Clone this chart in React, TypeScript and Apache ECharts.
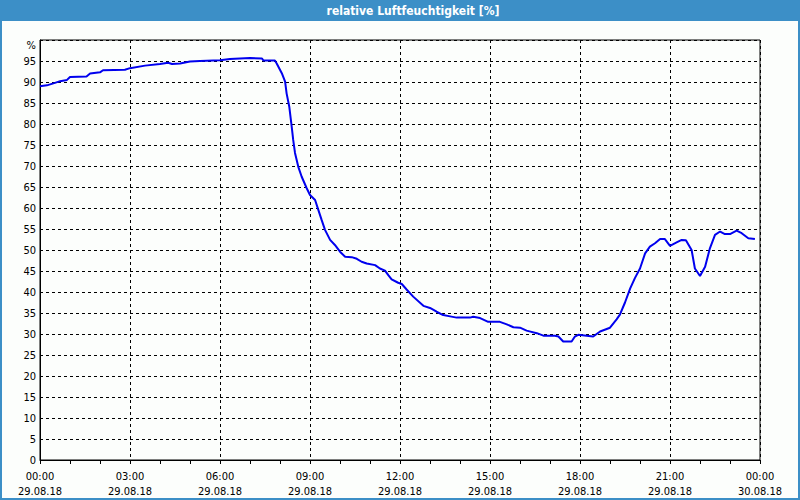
import React, { useEffect, useRef } from "react";
import * as echarts from "echarts";

const TITLE = "relative Luftfeuchtigkeit [%]";
const hours: number[] = [
  0, 0.23, 0.5, 0.67, 0.9, 1.0, 1.55, 1.67, 2.0, 2.1, 2.83, 3.0, 3.5, 4.0, 4.27, 4.4, 4.67, 5.0, 5.33, 6.0,
  6.33, 7.0, 7.4, 7.45, 7.83, 7.89, 8.06, 8.17, 8.22, 8.31, 8.39, 8.44, 8.5, 8.61, 8.72, 8.89, 9.0, 9.17,
  9.28, 9.39, 9.5, 9.67, 9.83, 10.0, 10.17, 10.39, 10.56, 10.72, 10.89, 11.17, 11.33, 11.5, 11.61, 11.72,
  11.94, 12.06, 12.22, 12.44, 12.78, 13.0, 13.22, 13.44, 13.67, 13.89, 14.33, 14.44, 14.67, 14.94, 15.33,
  15.56, 15.78, 16.0, 16.22, 16.56, 16.78, 17.17, 17.28, 17.44, 17.72, 17.83, 17.94, 18.22, 18.44, 18.67,
  19.0, 19.22, 19.33, 19.5, 19.67, 19.83, 20.0, 20.17, 20.33, 20.5, 20.67, 20.83, 21.0, 21.22, 21.39,
  21.53, 21.72, 21.83, 22.0, 22.17, 22.33, 22.5, 22.67, 22.83, 23.0, 23.22, 23.39, 23.61, 23.83,
];
const humidity: number[] = [
  89.0, 89.2, 89.8, 90.2, 90.5, 91.2, 91.3, 92.0, 92.3, 92.8, 92.9, 93.3, 93.9, 94.3, 94.6, 94.3, 94.4, 94.9, 95.0, 95.2,
  95.5, 95.7, 95.6, 95.1, 95.1, 94.4, 92.1, 90.1, 87.3, 84.1, 79.4, 76.2, 73.1, 69.8, 67.5, 64.7, 63.1, 61.9,
  59.5, 57.1, 54.8, 52.4, 51.2, 49.6, 48.4, 48.3, 47.9, 47.2, 46.8, 46.4, 45.6, 45.1, 44.0, 43.0,
  42.2, 41.9, 40.6, 38.9, 36.7, 36.2, 35.3, 34.5, 34.2, 33.9, 33.9, 34.1, 33.8, 32.9, 32.9,
  32.3, 31.6, 31.5, 30.8, 30.2, 29.6, 29.6, 29.4, 28.2, 28.2, 29.4, 29.8, 29.6, 29.4, 30.6,
  31.5, 33.5, 34.6, 37.5, 40.8, 43.3, 45.6, 49.2, 50.8, 51.6, 52.6, 52.6, 51.0, 51.8, 52.4,
  52.3, 50.0, 45.6, 43.8, 46.0, 50.4, 53.6, 54.4, 53.8, 53.8, 54.6, 54.0, 52.8, 52.6,
];
const xTickLabels: string[] = [
  "00:00\n29.08.18", "03:00\n29.08.18", "06:00\n29.08.18", "09:00\n29.08.18", "12:00\n29.08.18",
  "15:00\n29.08.18", "18:00\n29.08.18", "21:00\n29.08.18", "00:00\n30.08.18",
];
const yUnitLabel = "%";

const FONT = "'DejaVu Sans Condensed', 'Liberation Sans', sans-serif";

export default function App() {
  const ref = useRef<HTMLDivElement>(null);
  useEffect(() => {
    if (!ref.current) return;
    const chart = echarts.init(ref.current, undefined, { renderer: "svg" });
    const data = hours.map((h, i) => [h, humidity[i]]);
    chart.setOption({
      animation: false,
      backgroundColor: "#fcfefc",
      textStyle: { fontFamily: FONT },
      graphic: [
        { type: "rect", z: 0, shape: { x: 0, y: 0, width: 800, height: 21 }, style: { fill: "#3c8fc7" } },
        {
          type: "rect",
          z: 0,
          shape: { x: 1, y: 1, width: 798, height: 498 },
          style: { fill: "none", stroke: "#3c8fc7", lineWidth: 2 },
        },
        {
          type: "text",
          z: 1,
          x: 413,
          y: 11,
          style: {
            text: TITLE,
            fill: "#ffffff",
            font: `bold 12px ${FONT}`,
            textAlign: "center",
            textVerticalAlign: "middle",
          },
        },
      ],
      grid: {
        left: 40,
        right: 40,
        top: 40,
        bottom: 40,
        show: true,
        borderColor: "#000",
        borderWidth: 1,
        backgroundColor: "transparent",
      },
      xAxis: {
        type: "value",
        min: 0,
        max: 24,
        interval: 3,
        axisLine: { show: true, lineStyle: { color: "#000", width: 1 } },
        axisTick: { show: true, length: 4, lineStyle: { color: "#000" } },
        minorTick: { show: true, splitNumber: 3, length: 4, lineStyle: { color: "#000" } },
        splitLine: { show: true, lineStyle: { color: "#000", type: [3, 3], width: 1 } },
        axisLabel: {
          color: "#000",
          fontSize: 11,
          fontFamily: FONT,
          lineHeight: 15,
          margin: 9,
          showMinLabel: true,
          showMaxLabel: true,
          formatter: (v: number) => xTickLabels[Math.round(v / 3)] ?? "",
        },
      },
      yAxis: {
        type: "value",
        min: 0,
        max: 100,
        interval: 5,
        axisLine: { show: true, lineStyle: { color: "#000", width: 1 } },
        axisTick: { show: false },
        splitLine: { show: true, lineStyle: { color: "#000", type: [3, 3], width: 1 } },
        axisLabel: {
          color: "#000",
          fontSize: 11,
          fontFamily: FONT,
          margin: 4,
          formatter: (v: number) => (v === 100 ? `{p|${yUnitLabel}}` : String(v)),
          rich: { p: { fontSize: 11, fontFamily: FONT, color: "#000", padding: [10, 0, 0, 0] } },
        },
      },
      series: [
        {
          type: "line",
          data,
          showSymbol: false,
          symbol: "none",
          lineStyle: { color: "#0000ee", width: 2 },
          z: 3,
        },
      ],
    });
    return () => chart.dispose();
  }, []);
  return (
    <div
      ref={ref}
      style={{ position: "fixed", left: 0, top: 0, width: 800, height: 500 }}
    />
  );
}
